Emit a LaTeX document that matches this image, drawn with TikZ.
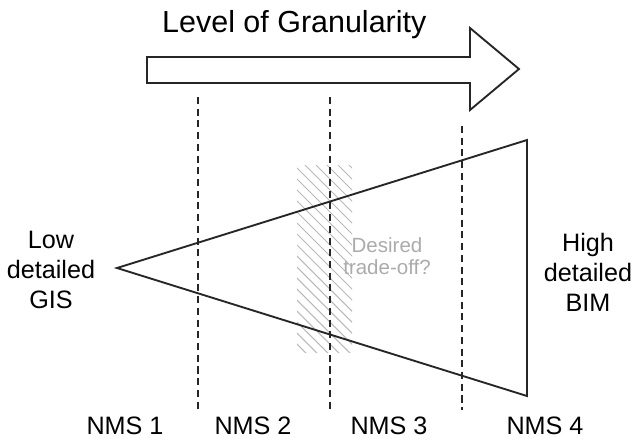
\documentclass[tikz,border=0pt]{standalone}
\usepackage{fontspec}
\setmainfont{Liberation Sans}
\usetikzlibrary{positioning}
\tikzset{
  lbl/.style     = {font=\fontsize{21.5}{25.5}\selectfont, align=center, inner sep=0pt},
  head/.style    = {lbl, font=\fontsize{26}{30}\selectfont},
  note/.style    = {lbl, font=\fontsize{17.5}{19}\selectfont, text=black!33},  % trade-off hint
  outline/.style = {draw=black!85, line width=1.6pt, line join=miter},
  divider/.style = {draw=black!85, line width=1.5pt, dash pattern=on 6pt off 4pt},
  hatch/.style   = {draw=black!28, line width=0.9pt},
}

\begin{document}
\begin{tikzpicture}[x=0.03cm, y=-0.03cm]
  \useasboundingbox (0,0) rectangle (634,438);

  % hatched trade-off band
  \begin{scope}
    \clip (297,165) rectangle (352,352);
    \foreach \k in {-70,-59,...,190}
      \draw[hatch] (290,165+\k) -- ++(80,80);
  \end{scope}

  % granularity arrow
  \draw[outline] (147,57) -- (470,57) -- (470,28) -- (519,69)
                 -- (470,110) -- (470,83) -- (147,83) -- cycle;
  \node[head, anchor=base west] at (162,32) (title) {Level of Granularity};

  \coordinate (d1t) at (198,97);  \coordinate (d1b) at (198,410);
  \coordinate (d2t) at (330,97);  \coordinate (d2b) at (330,410);
  \coordinate (d3t) at (462,126); \coordinate (d3b) at (462,410);
  \draw[divider] (d1t) -- (d1b);
  \draw[divider] (d2t) -- (d2b);
  \draw[divider] (d3t) -- (d3b);

  \coordinate (apex) at (117,268);
  \coordinate (topr) at (527,140);
  \coordinate (botr) at (527,396);
  \draw[outline] (apex) -- (topr) -- (botr) -- cycle;

  \node[lbl]  at (51,270)  (gis)  {Low\\detailed\\GIS};
  \node[lbl]  at (588,272) (bim)  {High\\detailed\\BIM};
  \node[note] at (387,256) (trade) {Desired\\trade-off?};

  \node[lbl, anchor=base] at (125,434) (nms1) {NMS 1};
  \node[lbl, anchor=base] at (253,434) (nms2) {NMS 2};
  \node[lbl, anchor=base] at (389,434) (nms3) {NMS 3};
  \node[lbl, anchor=base] at (545,434) (nms4) {NMS 4};
\end{tikzpicture}
\end{document}
